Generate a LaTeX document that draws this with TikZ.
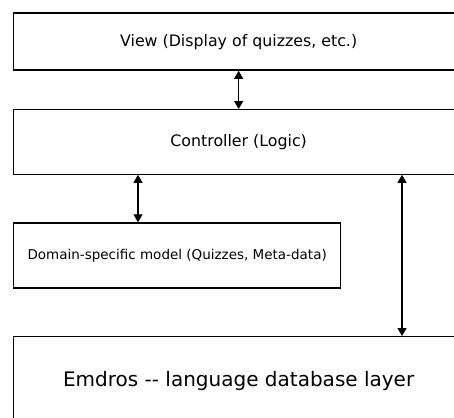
\documentclass[tikz,border=0pt]{standalone}
\usepackage{fontspec}
\setmainfont{DejaVu Sans}
\usetikzlibrary{arrows.meta}
\begin{document}
\begin{tikzpicture}[x=1pt,y=-1pt,
  layer/.style={draw=black,line width=1.3pt,fill=white,inner sep=0pt,anchor=north west},
  link/.style={line width=1.2pt,{Triangle[length=8pt,width=9pt]}-{Triangle[length=8pt,width=9pt]}}]
\useasboundingbox (0,0) rectangle (454,417);
\clip (0,0) rectangle (454,417);
\fill[white] (0,0) rectangle (454,417);
\node[layer,minimum width=450pt,minimum height=57pt,font=\fontsize{15.8}{19}\selectfont] (view) at (13,12.5) {View (Display of quizzes, etc.)};
\node[layer,minimum width=450pt,minimum height=64.5pt,font=\fontsize{15.8}{19}\selectfont] (ctrl) at (13,109) {Controller (Logic)};
\node[layer,minimum width=327pt,minimum height=65pt,font=\fontsize{13.5}{16}\selectfont] (dom) at (13,222.3) {Domain-specific model (Quizzes, Meta-data)};
\node[layer,minimum width=450pt,minimum height=88pt,font=\fontsize{20}{24}\selectfont] (emd) at (13,336) {Emdros -{}- language database layer};
\coordinate (a2) at (138,0);
\coordinate (a3) at (402,0);
\draw[link] (view.south) -- (ctrl.north);
\draw[link] (ctrl.south -| a2) -- (dom.north -| a2);
\draw[link] (ctrl.south -| a3) -- (emd.north -| a3);
\end{tikzpicture}
\end{document}
